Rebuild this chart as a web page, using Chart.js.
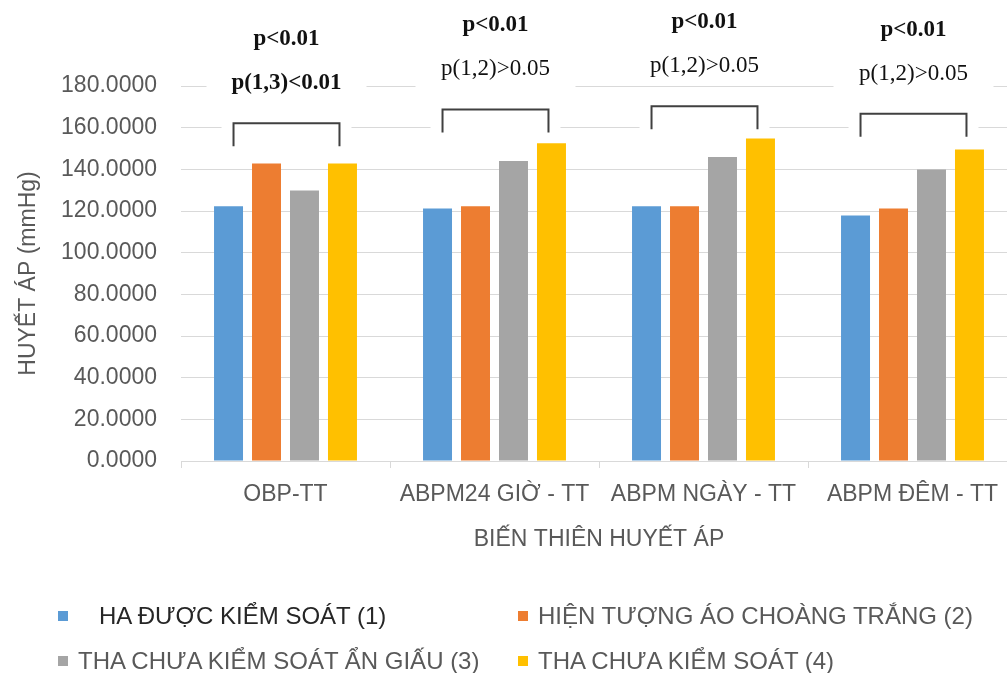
<!DOCTYPE html>
<html>
<head>
<meta charset="utf-8">
<script src="https://cdn.jsdelivr.net/npm/chart.js@4/dist/chart.umd.min.js"></script>
<style>
  html, body { margin: 0; padding: 0; background: #fff; overflow: hidden; width: 1007px; height: 673px; }
  #wrap { position: absolute; left: 0; top: 0; width: 1017px; height: 673px; }
  #legend {
    position: absolute; left: 58px; top: 593px;
    display: grid; grid-template-columns: 460px auto; grid-auto-rows: 45px;
    font-family: "Liberation Sans", Arial, sans-serif; font-size: 24px; color: #595959;
  }
  #legend .item { display: flex; align-items: center; white-space: nowrap; }
  #legend .box { width: 10px; height: 10px; margin-right: 10px; flex: none; }
  #legend .item:first-child { color: #262626; }
  #legend .item:first-child .box { margin-right: 31px; }
</style>
</head>
<body>
<div id="wrap"><canvas id="bpChart" width="1017" height="673"></canvas></div>
<div id="legend"></div>
<script>
// categories and series (mmHg)
const categories = ["OBP-TT", "ABPM24 GIỜ - TT", "ABPM NGÀY - TT", "ABPM ĐÊM - TT"];
const seriesNames = [
  "HA ĐƯỢC KIỂM SOÁT (1)",
  "HIỆN TƯỢNG ÁO CHOÀNG TRẮNG (2)",
  "THA CHƯA KIỂM SOÁT ẨN GIẤU (3)",
  "THA CHƯA KIỂM SOÁT (4)"
];
const controlled = [122.3, 121.2, 122.3, 117.9];
const whiteCoat = [142.8, 122.3, 122.3, 121.2];
const maskedUncontrolled = [129.8, 144.0, 145.9, 139.9];
const uncontrolled = [142.8, 152.5, 154.8, 149.5];
const yTicks = [0, 20, 40, 60, 80, 100, 120, 140, 160, 180];

// p-value notes above each group
const pOverall = ["p<0.01", "p<0.01", "p<0.01", "p<0.01"];
const pPair = ["p(1,3)<0.01", "p(1,2)>0.05", "p(1,2)>0.05", "p(1,2)>0.05"];

const colors = ["#5b9bd5", "#ed7d31", "#a5a5a5", "#ffc000"];
const sans = "'Liberation Sans', Arial, sans-serif";
const serif = "'Liberation Serif', 'Times New Roman', serif";

const groupGeom = (chart, i) => {
  const first = chart.getDatasetMeta(0).data[i];
  const last = chart.getDatasetMeta(3).data[i];
  const top = Math.min(...chart.data.datasets.map(d => chart.scales.y.getPixelForValue(d.data[i])));
  const x1 = first.x + 5, x2 = last.x - 3;
  // bracket follows the tallest bar, but only loosely
  const bracketY = 12 + 0.68 * top;
  return { x1, x2, cx: (x1 + x2) / 2, bracketY, bottomY: bracketY + 23 };
};

const pNotes = {
  id: "pNotes",
  beforeDatasetsDraw(chart) {
    // white boxes behind notes hide the gridlines, like the original text boxes
    const ctx = chart.ctx;
    ctx.save();
    ctx.fillStyle = "#fff";
    categories.forEach((_, i) => {
      const g = groupGeom(chart, i);
      ctx.fillRect(g.cx - 80, g.bracketY - 100, 160, 78);
      ctx.fillRect(g.x1 - 12, g.bracketY - 8, g.x2 - g.x1 + 24, 33);
    });
    ctx.restore();
  },
  afterDraw(chart) {
    const ctx = chart.ctx;
    ctx.save();
    ctx.textAlign = "center";
    ctx.textBaseline = "middle";
    ctx.fillStyle = "#111";
    ctx.strokeStyle = "#404040";
    ctx.lineWidth = 2;
    categories.forEach((_, i) => {
      const g = groupGeom(chart, i);
      ctx.beginPath();
      ctx.moveTo(g.x1, g.bottomY);
      ctx.lineTo(g.x1, g.bracketY);
      ctx.lineTo(g.x2, g.bracketY);
      ctx.lineTo(g.x2, g.bottomY);
      ctx.stroke();
      ctx.font = "bold 23px " + serif;
      ctx.fillText(pOverall[i], g.cx, g.bracketY - 84);
      ctx.font = (pPair[i].includes("<") ? "bold " : "") + "23px " + serif;
      ctx.fillText(pPair[i], g.cx, g.bracketY - 40);
    });
    ctx.restore();
  }
};

const chart = new Chart(document.getElementById("bpChart"), {
  type: "bar",
  data: {
    labels: categories,
    datasets: [controlled, whiteCoat, maskedUncontrolled, uncontrolled].map((data, k) => ({
      label: seriesNames[k],
      data,
      backgroundColor: colors[k],
      categoryPercentage: 0.727,
      barPercentage: 0.763
    }))
  },
  options: {
    responsive: false,
    animation: false,
    devicePixelRatio: 1,
    layout: { padding: { top: 86, right: 0, bottom: 110, left: 0 } },
    plugins: { legend: { display: false }, tooltip: { enabled: false } },
    scales: {
      x: {
        grid: { drawOnChartArea: false, drawTicks: true, tickLength: 7, color: "#d9d9d9" },
        border: { color: "#d9d9d9" },
        ticks: { padding: 13, color: "#595959", font: { family: sans, size: 23 } },
        title: {
          display: true, text: "BIẾN THIÊN HUYẾT ÁP", color: "#595959",
          font: { family: sans, size: 23 }, padding: { top: 0, bottom: 10 }
        },
        afterFit: s => { s.height = 102; }
      },
      y: {
        min: 0, max: 180,
        afterBuildTicks: s => { s.ticks = yTicks.map(v => ({ value: v })); },
        grid: { color: "#d9d9d9", drawTicks: false },
        border: { display: false },
        ticks: {
          padding: 24, color: "#595959", font: { family: sans, size: 23 },
          callback: v => v.toFixed(4)
        },
        title: {
          display: true, text: "HUYẾT ÁP (mmHg)", color: "#595959",
          font: { family: sans, size: 23 }, padding: { top: 15, bottom: 0 }
        },
        afterFit: s => { s.width = 181; }
      }
    }
  },
  plugins: [pNotes]
});

// legend in two columns, built from the datasets
const legend = document.getElementById("legend");
chart.data.datasets.forEach(ds => {
  const item = document.createElement("div");
  item.className = "item";
  const box = document.createElement("span");
  box.className = "box";
  box.style.background = ds.backgroundColor;
  const txt = document.createElement("span");
  txt.textContent = ds.label;
  item.append(box, txt);
  legend.append(item);
});
</script>
</body>
</html>
